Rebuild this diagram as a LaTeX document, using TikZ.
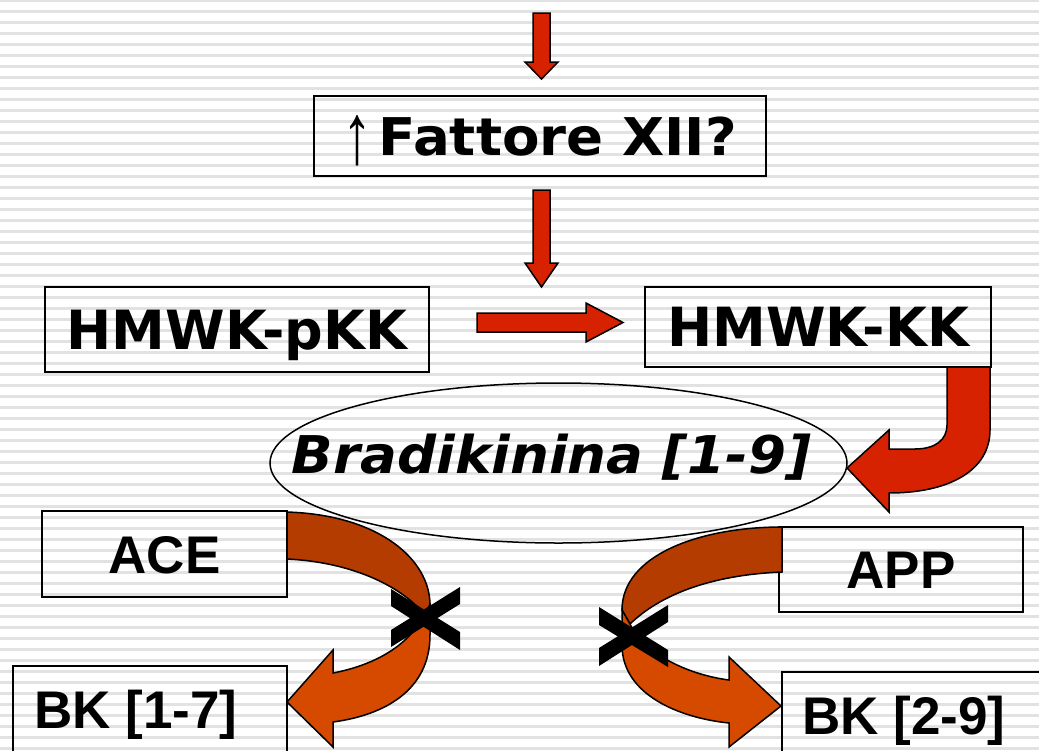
\documentclass[tikz,border=0pt]{standalone}
\usepackage{fontspec}
\usepackage{graphicx}
\usepackage{tikz}
\usetikzlibrary{shapes,arrows,positioning,calc}

\newfontfamily\verd{DejaVu Sans}
\newfontfamily\verdw{DejaVu Sans}[FakeStretch=1.05]
\newfontfamily\arl{Liberation Sans}

\definecolor{arrowred}{RGB}{214,34,0}
\definecolor{arcdark}{RGB}{180,60,0}
\definecolor{arclight}{RGB}{214,74,0}
\definecolor{stripe}{RGB}{226,226,226}

\tikzset{
    box/.style={draw, line width=2pt, inner sep=0pt, outer sep=0pt, text height=39pt, text depth=0pt},
    vbox/.style={box, font=\verd\bfseries\fontsize{54}{60}\selectfont},
    abox/.style={box, font=\arl\bfseries\fontsize{53}{60}\selectfont, text height=38pt},
    blockred/.style={fill=arrowred, draw=black, line width=1.5pt, line join=miter},
    bentdark/.style={fill=arcdark, draw=black, line width=1.5pt},
    bentlight/.style={fill=arclight, draw=black, line width=1.5pt},
    cross/.style={fill=black}
}

% straight block arrows
\newcommand{\downblock}[3]{%
    \draw[blockred] ($(#1)+(-8.5,0)$) -- ($(#2)+(-8.5,-#3)$) -- ($(#2)+(-16.5,-#3)$) -- (#2)
        -- ($(#2)+(16.5,-#3)$) -- ($(#2)+(8.5,-#3)$) -- ($(#1)+(8.5,0)$) -- cycle;
}
\newcommand{\rightblock}[2]{%
    \draw[blockred] ($(#1)+(0,-9.5)$) -- ($(#2)+(-37,-9.5)$) -- ($(#2)+(-37,-19.5)$) -- (#2)
        -- ($(#2)+(-37,19.5)$) -- ($(#2)+(-37,9.5)$) -- ($(#1)+(0,9.5)$) -- cycle;
}

\begin{document}
\begin{tikzpicture}[x=1pt, y=-1pt]
    \useasboundingbox (0,0) rectangle (1039,750);
    \fill[white] (0,0) rectangle (1039,750);

    % striped background
    \foreach \k in {0,...,68} {
        \fill[stripe] (0,11*\k-1) rectangle (1039,11*\k+1.5);
    }

    % boxes
    \node[vbox, minimum width=452pt, minimum height=80pt, font=\verdw\bfseries\fontsize{52}{60}\selectfont, text height=38pt] (fattore) at (540,136)
        {{\arl\mdseries\raisebox{-8pt}{\resizebox{30pt}{48pt}{↑}}}\hspace{6pt}Fattore XII?};
    \node[vbox, minimum width=384pt, minimum height=85pt] (hpkk) at (237,329.5) {HMWK-pKK};
    \node[vbox, minimum width=346pt, minimum height=80pt] (hkk) at (818,327) {HMWK-KK};
    \node[abox, minimum width=245pt, minimum height=86pt] (ace) at (164.5,554) {ACE};
    \node[abox, minimum width=274pt, minimum height=86pt] (bk17) at (150,709) {\hspace*{-28pt}BK [1-7]};
    \node[abox, minimum width=244pt, minimum height=85pt] (app) at (901,569.5) {APP};
    \node[abox, minimum width=300pt, minimum height=86pt] (bk29) at (932,715) {\hspace*{-56pt}BK [2-9]};

    % straight arrows
    \coordinate (in0) at (541.5,13);
    \coordinate (f0) at ($(fattore.north)+(1.5,-17)$);
    \coordinate (f1) at ($(fattore.south)+(1.5,14)$);
    \coordinate (f2) at ($(fattore.south |- hkk.north)+(1.5,0)$);
    \coordinate (k0) at ($(hpkk.east)+(48,-7)$);
    \coordinate (k1) at ($(hkk.west)+(-22,-4.5)$);
    \downblock{in0}{f0}{17}
    \downblock{f1}{f2}{24}
    \rightblock{k0}{k1}

    % bent arrow into the ellipse
    \draw[blockred] (947,367) -- (990,367) -- (990,430) .. controls (990,470) and (950,493) .. (889,493)
        -- (889,512) -- (847,468) -- (889,430) -- (889,449) -- (915,449)
        .. controls (935,449) and (947,440) .. (947,425) -- cycle;

    % ACE arrow
    \draw[bentdark] (287,512) .. controls (380,515) and (430,560) .. (430,605) -- (424,614)
        .. controls (400,585) and (350,562) .. (287,559) -- cycle;
    \draw[bentlight] (430,605) -- (430,635) .. controls (430,690) and (385,715) .. (333,722)
        -- (333,747) -- (287,702) -- (333,650) -- (333,673)
        .. controls (375,665) and (410,645) .. (424,614) -- cycle;

    % APP arrow
    \draw[bentdark] (782,527) .. controls (700,527) and (622,555) .. (622,610) -- (630,624)
        .. controls (660,595) and (710,575) .. (782,572) -- cycle;
    \draw[bentlight] (622,610) -- (622,645) .. controls (622,695) and (680,718) .. (729,723)
        -- (729,747) -- (781,706) -- (729,657) -- (729,680)
        .. controls (690,675) and (645,655) .. (630,624) -- cycle;

    % crosses
    \fill[cross] (391,589) -- (391,606) -- (460,650) -- (460,632) -- cycle;
    \fill[cross] (391,630) -- (391,647) -- (460,604) -- (460,587) -- cycle;
    \fill[cross] (599,607) -- (599,625) -- (668,667) -- (668,650) -- cycle;
    \fill[cross] (599,648) -- (599,666) -- (668,622) -- (668,605) -- cycle;

    % ellipse
    \node[draw, ellipse, line width=1.5pt, minimum width=577pt, minimum height=160pt, inner sep=0pt] (brad) at (558.5,463) {};
    \node[font=\verdw\bfseries\itshape\fontsize{52}{60}\selectfont, inner sep=0pt, text height=38pt, text depth=0pt] (bradtxt)
        at ($(brad.center)+(-7,-9)$) {Bradikinina [1-9]};
\end{tikzpicture}
\end{document}
